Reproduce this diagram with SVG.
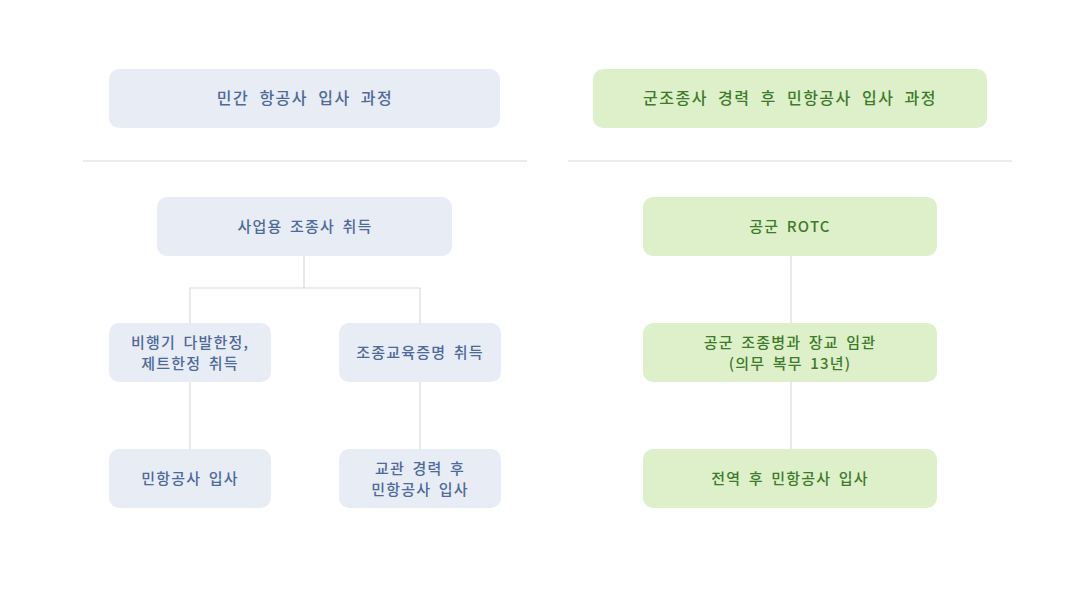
<svg xmlns="http://www.w3.org/2000/svg" width="1070" height="602" viewBox="0 0 1070 602">
<style>
.bg{fill:#ffffff}
.nb{fill:#E8ECF4}
.ng{fill:#DDF0C9}
.tb{font-family:"Noto Sans CJK KR","Noto Sans",sans-serif;font-size:15px;fill:#4E6A98;text-anchor:middle;letter-spacing:1.2px;word-spacing:3px;font-weight:500}
.tg{font-family:"Noto Sans CJK KR","Noto Sans",sans-serif;font-size:15px;fill:#3F7A2C;text-anchor:middle;letter-spacing:1.2px;word-spacing:3px;font-weight:500}
.h{font-size:16px;letter-spacing:1.5px;word-spacing:5px}
.ln{stroke:#DADADA;stroke-width:1.2;fill:none}
</style>
<rect class="bg" width="1070" height="602"/>
<g id="connectors">
<line class="ln" x1="83" y1="161" x2="527" y2="161"/>
<line class="ln" x1="568" y1="161" x2="1012" y2="161"/>
<path class="ln" d="M304 256 V288 M190 323 V288 H420 V323"/>
<line class="ln" x1="190" y1="382" x2="190" y2="449"/>
<line class="ln" x1="420" y1="382" x2="420" y2="449"/>
<line class="ln" x1="791" y1="256" x2="791" y2="323"/>
<line class="ln" x1="791" y1="382" x2="791" y2="449"/>
</g>
<g id="header-left"><rect class="nb" x="109" y="69" width="391" height="59" rx="10"/><text class="tb h" x="305" y="104">민간 항공사 입사 과정</text></g>
<g id="header-right"><rect class="ng" x="593" y="69" width="394" height="59" rx="10"/><text class="tg h" x="790" y="104">군조종사 경력 후 민항공사 입사 과정</text></g>
<g id="n1"><rect class="nb" x="157" y="197" width="295" height="59" rx="10"/><text class="tb" x="305" y="232">사업용 조종사 취득</text></g>
<g id="n2"><rect class="nb" x="109" y="323" width="162" height="59" rx="10"/><text class="tb" x="190" y="348">비행기 다발한정,</text><text class="tb" x="190" y="369">제트한정 취득</text></g>
<g id="n3"><rect class="nb" x="339" y="323" width="162" height="59" rx="10"/><text class="tb" x="420" y="358">조종교육증명 취득</text></g>
<g id="n4"><rect class="nb" x="109" y="449" width="162" height="59" rx="10"/><text class="tb" x="190" y="484">민항공사 입사</text></g>
<g id="n5"><rect class="nb" x="339" y="449" width="162" height="59" rx="10"/><text class="tb" x="420" y="474">교관 경력 후</text><text class="tb" x="420" y="495">민항공사 입사</text></g>
<g id="r1"><rect class="ng" x="643" y="197" width="294" height="59" rx="10"/><text class="tg" x="790" y="232">공군 ROTC</text></g>
<g id="r2"><rect class="ng" x="643" y="323" width="294" height="59" rx="10"/><text class="tg" x="790" y="348">공군 조종병과 장교 임관</text><text class="tg" x="790" y="369">(의무 복무 13년)</text></g>
<g id="r3"><rect class="ng" x="643" y="449" width="294" height="59" rx="10"/><text class="tg" x="790" y="484">전역 후 민항공사 입사</text></g>
</svg>
